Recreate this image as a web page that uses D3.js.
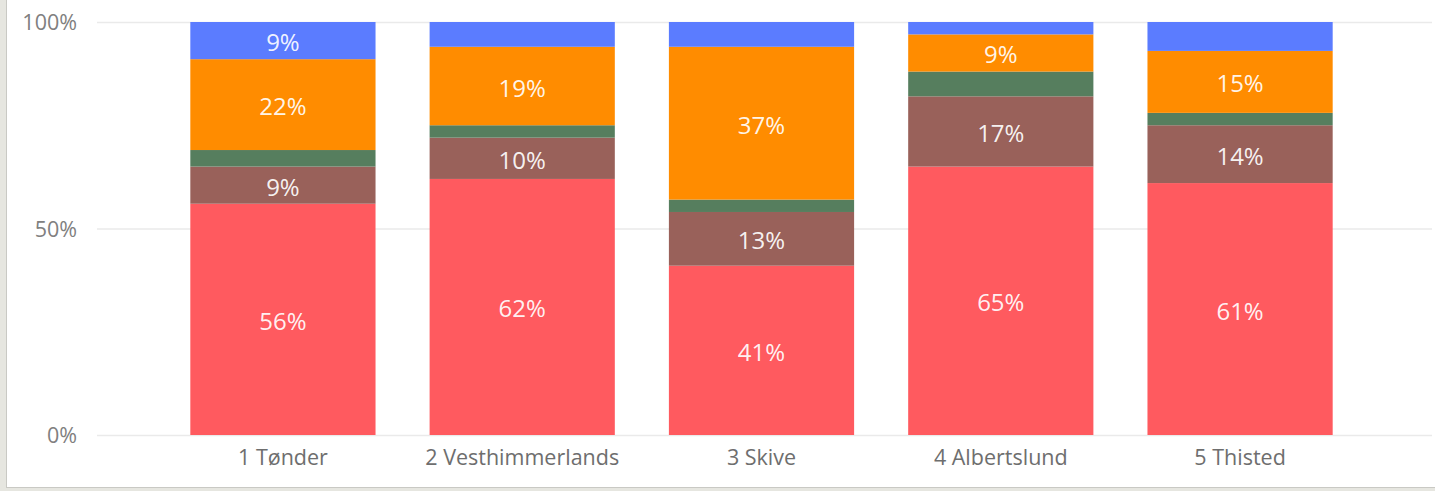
<!DOCTYPE html>
<html><head><meta charset="utf-8">
<script src="https://cdn.jsdelivr.net/npm/d3@7"></script>
<style>
html,body{margin:0;padding:0;background:#fff;overflow:hidden}
svg{display:block}
</style></head><body>
<svg id="chart" width="1435" height="491"></svg>
<script>
const categories = ["1 Tønder","2 Vesthimmerlands","3 Skive","4 Albertslund","5 Thisted"];
const seriesNames = ["red","brown","green","orange","blue"];
const redVals    = [56, 62, 41, 65, 61];
const brownVals  = [9, 10, 13, 17, 14];
const greenVals  = [4, 3, 3, 6, 3];
const orangeVals = [22, 19, 37, 9, 15];
const blueVals   = [9, 6, 6, 3, 7];
const yTicks = [0, 50, 100];
const colors = ["#FF5A5F","#99615A","#567E5E","#FF8C00","#5B7CFF"];

const svg = d3.select("#chart");
const W = 1435, H = 491;
const FONT = "'Open Sans', 'Noto Sans', sans-serif";

// frame
svg.append("rect").attr("x",0).attr("y",0).attr("width",7).attr("height",H).attr("fill","#e6e6e0");
svg.append("rect").attr("x",6).attr("y",0).attr("width",1).attr("height",H).attr("fill","#c9c9c4");
svg.append("rect").attr("x",0).attr("y",487).attr("width",W).attr("height",4).attr("fill","#e6e6e0");
svg.append("rect").attr("x",6).attr("y",487).attr("width",W).attr("height",1).attr("fill","#c9c9c4");

const x = d3.scaleBand().domain(categories).range([97,1426]).paddingInner(0.226).paddingOuter(0.39);
const y = d3.scaleLinear().domain([0,100]).range([435,22]);

// gridlines
svg.append("g").selectAll("line").data(yTicks).join("line")
  .attr("x1",97).attr("x2",1432)
  .attr("y1",d=>y(d)+0.5).attr("y2",d=>y(d)+0.5)
  .attr("stroke","#eaeaea").attr("stroke-width",1.5);

// y axis
const yAxis = d3.axisLeft(y).tickValues(yTicks).tickFormat(d=>d+"%").tickSize(0).tickPadding(0);
const gy = svg.append("g").attr("transform","translate(77,1)").call(yAxis);
gy.select(".domain").remove();
gy.selectAll("text").attr("fill","#808080").style("font-family",FONT).style("font-size","21.5px");

// x axis
const xAxis = d3.axisBottom(x).tickSize(0).tickPadding(0);
const gx = svg.append("g").attr("transform","translate(0,450)").call(xAxis);
gx.select(".domain").remove();
gx.selectAll("text").attr("fill","#6e6e6e").style("font-family",FONT).style("font-size","21.5px");

// stack
const table = categories.map((c,i)=>({cat:c, red:redVals[i], brown:brownVals[i], green:greenVals[i], orange:orangeVals[i], blue:blueVals[i]}));
const stack = d3.stack().keys(seriesNames)(table);

const layers = svg.append("g").selectAll("g").data(stack).join("g").attr("fill",(d,i)=>colors[i]);
layers.selectAll("rect").data(d=>d).join("rect")
  .attr("x",d=>x(d.data.cat))
  .attr("width",x.bandwidth())
  .attr("y",d=>y(d[1]))
  .attr("height",d=>y(d[0])-y(d[1]));

// labels
const labels = svg.append("g");
stack.forEach((layer)=>{
  layer.forEach(d=>{
    const v = d[1]-d[0];
    if (v >= 8) {
      labels.append("text")
        .attr("x", x(d.data.cat)+x.bandwidth()/2)
        .attr("y", (y(d[0])+y(d[1]))/2 + 1)
        .attr("text-anchor","middle")
        .attr("dominant-baseline","central")
        .attr("fill","#fff").attr("fill-opacity",0.93)
        .style("font-family",FONT)
        .style("font-size","24px")
        .text(v+"%");
    }
  });
});
</script></body></html>
